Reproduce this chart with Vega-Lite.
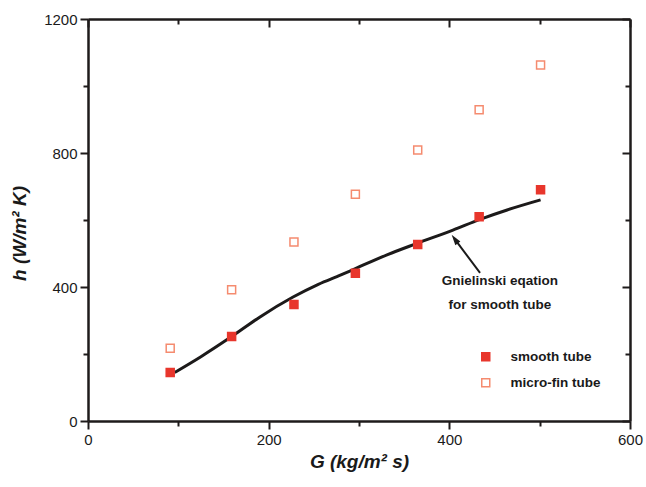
{
  "$schema": "https://vega.github.io/schema/vega-lite/v6.json",
  "width": 542,
  "height": 402,
  "autosize": "none",
  "padding": {"left": 88, "top": 19, "right": 16, "bottom": 66},
  "background": "#ffffff",
  "config": {
    "view": {"stroke": null},
    "font": "Liberation Sans",
    "axis": {
      "grid": false,
      "domainColor": "#1e1b1b",
      "domainWidth": 2.5,
      "tickColor": "#1e1b1b",
      "tickWidth": 2,
      "labelFont": "Liberation Sans",
      "labelFontSize": 15,
      "labelColor": "#1a1a1a",
      "labelPadding": 3,
      "labelFlush": false,
      "labelOverlap": false,
      "titleFont": "Liberation Sans",
      "titleFontSize": 19,
      "titleFontWeight": "bold",
      "titleFontStyle": "italic",
      "titleColor": "#1a1a1a"
    }
  },
  "datasets": {
    "measured": [
      {"G": 91, "h": 145, "tube": "smooth tube"},
      {"G": 159, "h": 252, "tube": "smooth tube"},
      {"G": 228, "h": 348, "tube": "smooth tube"},
      {"G": 296, "h": 441, "tube": "smooth tube"},
      {"G": 365, "h": 527, "tube": "smooth tube"},
      {"G": 433, "h": 610, "tube": "smooth tube"},
      {"G": 501, "h": 690, "tube": "smooth tube"},
      {"G": 91, "h": 217, "tube": "micro-fin tube"},
      {"G": 159, "h": 392, "tube": "micro-fin tube"},
      {"G": 228, "h": 534, "tube": "micro-fin tube"},
      {"G": 296, "h": 677, "tube": "micro-fin tube"},
      {"G": 365, "h": 809, "tube": "micro-fin tube"},
      {"G": 433, "h": 929, "tube": "micro-fin tube"},
      {"G": 501, "h": 1063, "tube": "micro-fin tube"}
    ],
    "gnielinski": [
      {"G": 96, "h": 145},
      {"G": 125, "h": 192},
      {"G": 159, "h": 252},
      {"G": 190, "h": 310},
      {"G": 227, "h": 370},
      {"G": 255, "h": 408},
      {"G": 280, "h": 436},
      {"G": 296, "h": 455},
      {"G": 331, "h": 496},
      {"G": 364, "h": 530},
      {"G": 404, "h": 570},
      {"G": 434, "h": 602},
      {"G": 464, "h": 630},
      {"G": 501, "h": 660}
    ],
    "note": [
      {"G": 456, "h": 418, "text": "Gnielinski eqation"},
      {"G": 456, "h": 346, "text": "for smooth tube"}
    ],
    "arrow": [
      {"G": 434, "h": 442, "G2": 406, "h2": 543}
    ]
  },
  "layer": [
    {
      "data": {"name": "gnielinski"},
      "mark": {"type": "line", "interpolate": "monotone", "color": "#1c1a1a", "strokeWidth": 3},
      "encoding": {
        "x": {
          "field": "G", "type": "quantitative",
          "scale": {"domain": [0, 600], "nice": false},
          "axis": {
            "orient": "bottom",
            "values": [0, 100, 200, 300, 400, 500, 600],
            "format": "d",
            "labelExpr": "datum.value % 200 === 0 ? datum.label : ''",
            "tickSize": {"condition": {"test": "datum.value % 200 === 0", "value": 8}, "value": 5},
            "title": "G (kg/m² s)",
            "titlePadding": 5
          }
        },
        "y": {
          "field": "h", "type": "quantitative",
          "scale": {"domain": [0, 1200], "nice": false},
          "axis": {
            "orient": "left",
            "values": [0, 200, 400, 600, 800, 1000, 1200],
            "format": "d",
            "labelExpr": "datum.value % 400 === 0 ? datum.label : ''",
            "tickSize": {"condition": {"test": "datum.value % 400 === 0", "value": 8}, "value": 5},
            "title": "h (W/m² K)",
            "titlePadding": 14,
            "titleY": 214
          }
        }
      }
    },
    {
      "data": {"name": "measured"},
      "mark": {"type": "point", "shape": "square", "size": 64, "strokeWidth": 1.5, "opacity": 1},
      "encoding": {
        "x": {
          "field": "G", "type": "quantitative",
          "axis": {
            "orient": "top",
            "values": [0, 100, 200, 300, 400, 500, 600],
            "labels": false,
            "tickSize": {"condition": {"test": "datum.value % 200 === 0", "value": -8}, "value": -5},
            "title": null
          }
        },
        "y": {
          "field": "h", "type": "quantitative",
          "axis": {
            "orient": "right",
            "values": [0, 200, 400, 600, 800, 1000, 1200],
            "labels": false,
            "tickSize": {"condition": {"test": "datum.value % 400 === 0", "value": -8}, "value": -5},
            "title": null
          }
        },
        "fill": {
          "field": "tube", "type": "nominal",
          "scale": {"domain": ["smooth tube", "micro-fin tube"], "range": ["#e8362c", "#ffffff"]},
          "legend": {
            "title": null,
            "orient": "none",
            "legendX": 391,
            "legendY": 331,
            "padding": 0,
            "labelFont": "Liberation Sans",
            "labelFontWeight": "bold",
            "labelFontSize": 13.5,
            "labelColor": "#1a1a1a",
            "labelOffset": 18,
            "rowPadding": 11,
            "symbolSize": 64,
            "symbolStrokeWidth": 1.5
          }
        },
        "stroke": {
          "field": "tube", "type": "nominal",
          "scale": {"domain": ["smooth tube", "micro-fin tube"], "range": ["#e8362c", "#f58b6f"]},
          "legend": {
            "title": null,
            "orient": "none",
            "legendX": 391,
            "legendY": 331,
            "padding": 0,
            "labelFont": "Liberation Sans",
            "labelFontWeight": "bold",
            "labelFontSize": 13.5,
            "labelColor": "#1a1a1a",
            "labelOffset": 18,
            "rowPadding": 11,
            "symbolSize": 64,
            "symbolStrokeWidth": 1.5
          }
        }
      }
    },
    {
      "data": {"name": "note"},
      "mark": {"type": "text", "font": "Liberation Sans", "fontWeight": "bold", "fontSize": 13.5, "color": "#1a1a1a", "align": "center", "baseline": "middle"},
      "encoding": {
        "x": {"field": "G", "type": "quantitative", "axis": null},
        "y": {"field": "h", "type": "quantitative", "axis": null},
        "text": {"field": "text"}
      }
    },
    {
      "data": {"name": "arrow"},
      "mark": {"type": "rule", "color": "#1a1a1a", "strokeWidth": 2},
      "encoding": {
        "x": {"field": "G", "type": "quantitative", "axis": null},
        "y": {"field": "h", "type": "quantitative", "axis": null},
        "x2": {"field": "G2"},
        "y2": {"field": "h2"}
      }
    },
    {
      "data": {"name": "arrow"},
      "mark": {"type": "point", "shape": "M0,-1L0.6,1L-0.6,1Z", "size": 110, "filled": true, "color": "#1a1a1a", "opacity": 1, "angle": 323.6},
      "encoding": {
        "x": {"field": "G2", "type": "quantitative", "axis": null},
        "y": {"field": "h2", "type": "quantitative", "axis": null}
      }
    }
  ],
  "resolve": {"axis": {"x": "independent", "y": "independent"}}
}
